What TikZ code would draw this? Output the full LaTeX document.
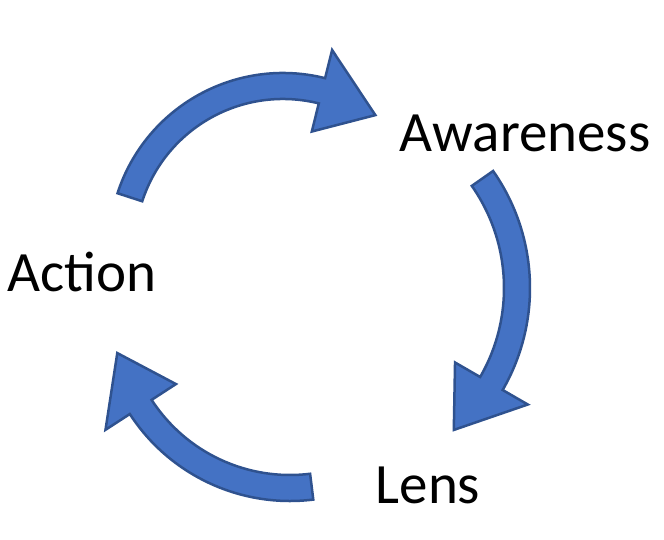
\documentclass[tikz,border=0pt]{standalone}
\usepackage{fontspec}
\setmainfont{Carlito}
\definecolor{afill}{HTML}{4472C4}
\definecolor{aline}{HTML}{2F528F}
% #1 centre x, #2 centre y, #3 radius, #4 start, #5 head base, #6 tip angle
\newcommand\cyclearrow[6]{\filldraw[arr,shift={(#1pt,-#2pt)}]
  (#4:#3pt+13pt) arc[start angle=#4,end angle=#5,radius=#3pt+13pt]
  -- (#5:#3pt+42pt) -- (#6:#3pt) -- (#5:#3pt-42pt) -- (#5:#3pt-13pt)
  arc[start angle=#5,end angle=#4,radius=#3pt-13pt] -- cycle;}
\begin{document}
\begin{tikzpicture}[x=1pt,y=1pt,
  arr/.style={fill=afill,draw=aline,line width=2.5pt,line join=miter},
  lbl/.style={font=\fontsize{57}{60}\selectfont,inner sep=0pt}]
\useasboundingbox (0,0) rectangle (664,-540);
\cyclearrow{283}{247}{161}{162}{76}{55}
\cyclearrow{326}{288}{191}{35}{-30}{-48}
\cyclearrow{290}{310}{178}{-83}{-147}{-166}
\node[lbl] (aw) at (525,-133) {Awareness};
\node[lbl] (ac) at (82,-272) {Action};
\node[lbl] (le) at (428,-485) {Lens};
\end{tikzpicture}
\end{document}
